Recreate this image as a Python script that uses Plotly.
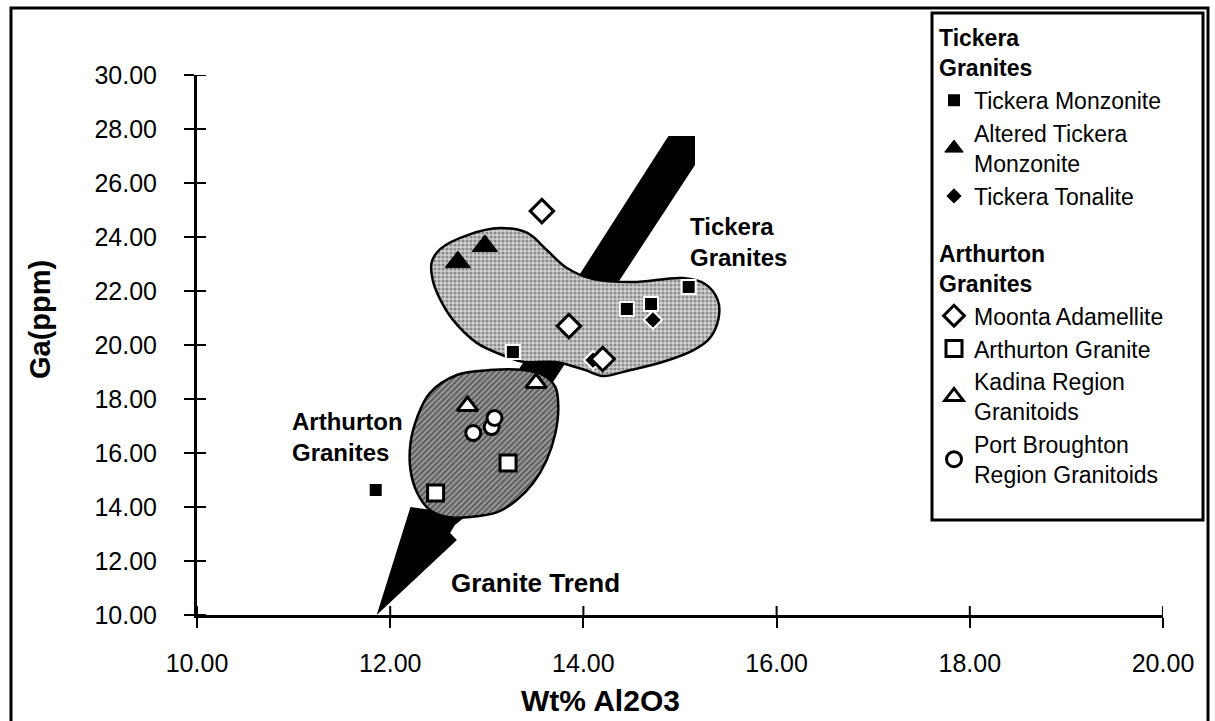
import plotly.graph_objects as go

# ---------------- data ----------------
tick_vals_x = [10, 12, 14, 16, 18, 20]
tick_vals_y = [10, 12, 14, 16, 18, 20, 22, 24, 26, 28, 30]

tickera_monzonite_x = [11.85, 13.27, 14.45, 14.70, 15.09]
tickera_monzonite_y = [14.63, 19.74, 21.33, 21.52, 22.15]

altered_monzonite_x = [12.70, 12.98]
altered_monzonite_y = [23.07, 23.67]

tickera_tonalite_x = [14.72, 14.10]
tickera_tonalite_y = [20.93, 19.44]

moonta_x = [13.57, 13.85, 14.20]
moonta_y = [24.96, 20.70, 19.48]

arthurton_granite_x = [12.47, 13.22]
arthurton_granite_y = [14.52, 15.63]

kadina_x = [12.80, 13.51]
kadina_y = [17.74, 18.59]

port_broughton_x = [12.86, 13.05, 13.08]
port_broughton_y = [16.74, 16.96, 17.30]

# hand-drawn fields and trend arrow (data units)
tickera_field_x = [12.43, 12.52, 12.80, 13.14, 13.42, 13.62, 13.83, 14.10, 14.51, 15.03, 15.26, 15.39,
                   15.40, 15.31, 15.14, 14.82, 14.45, 14.20, 14.02, 13.71, 13.38, 13.21, 12.90, 12.65,
                   12.52, 12.44, 12.43]
tickera_field_y = [23.07, 23.56, 24.07, 24.33, 24.15, 23.52, 22.85, 22.44, 22.33, 22.48, 22.26, 21.67,
                   21.00, 20.26, 19.81, 19.37, 19.04, 18.85, 19.07, 19.37, 19.37, 19.56, 20.07, 20.93,
                   21.67, 22.41, 23.07]

arthurton_field_x = [12.41, 12.69, 13.03, 13.38, 13.58, 13.71, 13.74, 13.71, 13.62, 13.48, 13.31, 13.11,
                     12.83, 12.59, 12.41, 12.28, 12.21, 12.21, 12.28, 12.41]
arthurton_field_y = [18.22, 18.89, 19.07, 19.07, 18.89, 18.44, 17.70, 16.74, 15.74, 14.89, 14.26, 13.81,
                     13.63, 13.63, 13.89, 14.52, 15.37, 16.37, 17.33, 18.22]

trend_band_x = [14.88, 15.155, 15.155, 13.26, 12.83, 14.88]
trend_band_y = [27.74, 27.74, 26.67, 16.30, 16.30, 27.74]

trend_head_x = [11.86, 12.21, 12.80, 12.67, 12.62, 12.69, 11.86]
trend_head_y = [10.00, 14.00, 13.70, 13.33, 13.04, 12.78, 10.00]

FONT = "Liberation Sans, Arial, Helvetica, sans-serif"

# pixel geometry helpers for layout-only items
W, H = 1215, 721
L, R, T, B = 197, 1163, 75, 615


def px(xp):
    return (xp - L) / (R - L)


def py(yp):
    return (B - yp) / (B - T)


fig = go.Figure()

# black trend band (drawn under fields)
fig.add_trace(go.Scatter(x=trend_band_x, y=trend_band_y, mode="lines", fill="toself",
                         fillcolor="black", line=dict(color="black", width=0),
                         showlegend=False, hoverinfo="skip"))
fig.add_trace(go.Scatter(x=trend_head_x, y=trend_head_y, mode="lines", fill="toself",
                         fillcolor="black", line=dict(color="black", width=0),
                         showlegend=False, hoverinfo="skip"))

# fields
fig.add_trace(go.Scatter(x=tickera_field_x, y=tickera_field_y, mode="lines", fill="toself",
                         line=dict(color="black", width=2.5, shape="spline", smoothing=1.0),
                         fillcolor="#cfcfcf",
                         fillpattern=dict(shape=".", fgcolor="#444444", bgcolor="#d2d2d2",
                                          size=4, solidity=0.5),
                         showlegend=False, hoverinfo="skip"))
fig.add_trace(go.Scatter(x=arthurton_field_x, y=arthurton_field_y, mode="lines", fill="toself",
                         line=dict(color="black", width=2.5, shape="spline", smoothing=1.0),
                         fillcolor="#888888",
                         fillpattern=dict(shape="/", fgcolor="#1a1a1a", bgcolor="#9c9c9c",
                                          size=4, solidity=0.5),
                         showlegend=False, hoverinfo="skip"))

# data series
LEGEND_FONT = dict(family=FONT, size=23, color="black")
fig.add_trace(go.Scatter(x=tickera_monzonite_x, y=tickera_monzonite_y, mode="markers",
                         name="Tickera Monzonite", legendgroup="tick",
                         legendgrouptitle=dict(text="<b>Tickera</b><br><b>Granites</b>", font=LEGEND_FONT),
                         marker=dict(symbol="square", size=14, color="black",
                                     line=dict(color="white", width=2))))
fig.add_trace(go.Scatter(x=altered_monzonite_x, y=altered_monzonite_y, mode="markers",
                         name="Altered Tickera<br>Monzonite", legendgroup="tick",
                         marker=dict(symbol="triangle-up", size=22, color="black",
                                     line=dict(color="black", width=1))))
fig.add_trace(go.Scatter(x=tickera_tonalite_x, y=tickera_tonalite_y, mode="markers",
                         name="Tickera Tonalite", legendgroup="tick",
                         marker=dict(symbol="diamond", size=14, color="black",
                                     line=dict(color="white", width=2))))
fig.add_trace(go.Scatter(x=moonta_x, y=moonta_y, mode="markers",
                         name="Moonta Adamellite", legendgroup="arth",
                         legendgrouptitle=dict(text="<b>Arthurton</b><br><b>Granites</b>", font=LEGEND_FONT),
                         marker=dict(symbol="diamond", size=18, color="white",
                                     line=dict(color="black", width=3))))
fig.add_trace(go.Scatter(x=arthurton_granite_x, y=arthurton_granite_y, mode="markers",
                         name="Arthurton Granite", legendgroup="arth",
                         marker=dict(symbol="square", size=16, color="white",
                                     line=dict(color="black", width=3))))
fig.add_trace(go.Scatter(x=kadina_x, y=kadina_y, mode="markers",
                         name="Kadina Region<br>Granitoids", legendgroup="arth",
                         marker=dict(symbol="triangle-up", size=18, color="white",
                                     line=dict(color="black", width=3))))
fig.add_trace(go.Scatter(x=port_broughton_x, y=port_broughton_y, mode="markers",
                         name="Port Broughton<br>Region Granitoids", legendgroup="arth",
                         marker=dict(symbol="circle", size=15, color="white",
                                     line=dict(color="black", width=3))))

# text labels on the plot
BOLD = dict(family=FONT, size=24, color="black")
fig.add_annotation(x=15.08, y=23.81, text="<b>Tickera</b><br><b>Granites</b>", showarrow=False,
                   xanchor="left", yanchor="middle", align="left", font=BOLD)
fig.add_annotation(x=10.96, y=16.59, text="<b>Arthurton</b><br><b>Granites</b>", showarrow=False,
                   xanchor="left", yanchor="middle", align="left", font=BOLD)
fig.add_annotation(x=13.50, y=11.19, text="<b>Granite Trend</b>", showarrow=False,
                   xanchor="center", yanchor="middle", font=dict(family=FONT, size=26, color="black"))

# axis titles
fig.add_annotation(xref="paper", yref="paper", x=px(40), y=py(320), text="<b>Ga(ppm)</b>",
                   showarrow=False, textangle=-90, xanchor="center", yanchor="middle",
                   font=dict(family=FONT, size=29, color="black"))
fig.add_annotation(xref="paper", yref="paper", x=px(600), y=py(700), text="<b>Wt% Al2O3</b>",
                   showarrow=False, xanchor="center", yanchor="middle",
                   font=dict(family=FONT, size=30, color="black"))

# outer frame
fig.add_shape(type="rect", xref="paper", yref="paper", x0=px(11), x1=px(1208), y0=py(740), y1=py(8),
              line=dict(color="black", width=3), fillcolor="rgba(0,0,0,0)", layer="below")
# legend frame
fig.add_shape(type="rect", xref="paper", yref="paper", x0=px(932), x1=px(1203), y0=py(520), y1=py(13),
              line=dict(color="black", width=3), fillcolor="white", layer="below")

# inner halves of the crossing tick marks
for v in tick_vals_x:
    fig.add_shape(type="line", xref="x", yref="paper", x0=v, x1=v, y0=0, y1=py(B - 9),
                  line=dict(color="black", width=2))
for v in tick_vals_y:
    fig.add_shape(type="line", xref="paper", yref="y", x0=0, x1=px(L + 9), y0=v, y1=v,
                  line=dict(color="black", width=2))

TICKFONT = dict(family=FONT, size=25, color="black")
fig.update_layout(
    width=W, height=H,
    margin=dict(l=L, r=W - R, t=T, b=H - B, pad=0),
    paper_bgcolor="white", plot_bgcolor="white",
    showlegend=True,
    legend=dict(x=px(934), y=py(16), xanchor="left", yanchor="top",
                borderwidth=0, bgcolor="rgba(0,0,0,0)",
                font=LEGEND_FONT, traceorder="grouped", tracegroupgap=24,
                itemwidth=30, grouptitlefont=LEGEND_FONT, maxheight=700),
    xaxis=dict(range=[10, 20], tickvals=tick_vals_x, tickformat=".2f", ticks="outside",
               ticklen=10, tickwidth=2, tickcolor="black", showline=True, linewidth=3,
               linecolor="black", showgrid=False, zeroline=False, tickfont=TICKFONT,
               ticklabelstandoff=14),
    yaxis=dict(range=[10, 30], tickvals=tick_vals_y, tickformat=".2f", ticks="outside",
               ticklen=10, tickwidth=2, tickcolor="black", showline=True, linewidth=3,
               linecolor="black", showgrid=False, zeroline=False, tickfont=TICKFONT,
               ticklabelstandoff=22),
)

fig.write_html("out.html")
